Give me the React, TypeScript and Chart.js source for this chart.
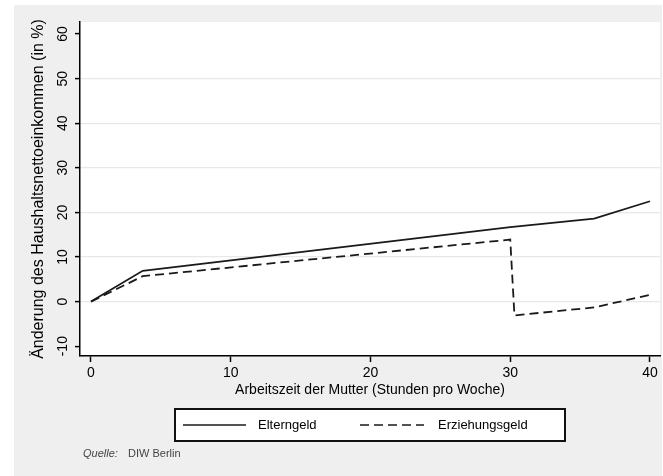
import React, { useEffect, useRef } from "react";
import { Chart, registerables } from "chart.js";

Chart.register(...registerables);

// ---- data ----
const elterngeldHours = [0, 3.7, 30, 36, 40];
const elterngeldValues = [0, 6.9, 16.7, 18.6, 22.5];
const erziehungsHours = [0, 3.7, 30, 30.3, 36, 40];
const erziehungsValues = [0, 5.7, 13.9, -3.1, -1.3, 1.5];
const seriesLabels = ["Elterngeld", "Erziehungsgeld"];
const xTitle = "Arbeitszeit der Mutter (Stunden pro Woche)";
const yTitle = "Änderung des Haushaltsnettoeinkommen (in %)";
const sourceLabel = "Quelle:";
const sourceText = "DIW Berlin";

const W = 663;
const H = 476;
const FONT = "'Liberation Sans', Arial, Helvetica, sans-serif";

const toPoints = (xs: number[], ys: number[]) => xs.map((x, i) => ({ x, y: ys[i] }));

const backgroundPlugin = {
  id: "bgPanel",
  beforeDraw(chart: any) {
    const { ctx, chartArea } = chart;
    ctx.save();
    ctx.fillStyle = "#ffffff";
    ctx.fillRect(0, 0, W, H);
    ctx.fillStyle = "#efefef";
    ctx.fillRect(14, 5, 648, H - 5);
    ctx.fillStyle = "#ffffff";
    ctx.fillRect(chartArea.left, chartArea.top, chartArea.right - chartArea.left, chartArea.bottom - chartArea.top);
    ctx.restore();
  },
};

const legendPlugin = {
  id: "customLegend",
  afterDraw(chart: any) {
    const { ctx } = chart;
    ctx.save();
    // box
    ctx.fillStyle = "#ffffff";
    ctx.fillRect(175, 409, 390, 32);
    ctx.strokeStyle = "#111111";
    ctx.lineWidth = 2;
    ctx.strokeRect(175, 409, 390, 32);
    const cy = 425;
    // solid sample
    ctx.strokeStyle = "#1a1a1a";
    ctx.lineWidth = 1.6;
    ctx.setLineDash([]);
    ctx.beginPath();
    ctx.moveTo(183, cy);
    ctx.lineTo(246, cy);
    ctx.stroke();
    // dashed sample
    ctx.setLineDash([9, 5]);
    ctx.beginPath();
    ctx.moveTo(360, cy);
    ctx.lineTo(424, cy);
    ctx.stroke();
    ctx.setLineDash([]);
    ctx.fillStyle = "#000000";
    ctx.font = `13px ${FONT}`;
    ctx.textBaseline = "middle";
    ctx.textAlign = "left";
    ctx.fillText(seriesLabels[0], 258, cy);
    ctx.fillText(seriesLabels[1], 438, cy);
    // source
    ctx.fillStyle = "#444444";
    ctx.font = `italic 11px ${FONT}`;
    ctx.fillText(sourceLabel, 83, 454);
    ctx.font = `11px ${FONT}`;
    ctx.fillText(sourceText, 128, 454);
    ctx.restore();
  },
};

export default function App() {
  const ref = useRef<HTMLCanvasElement | null>(null);

  useEffect(() => {
    if (!ref.current) return;
    const chart = new Chart(ref.current, {
      type: "scatter",
      data: {
        datasets: [
          {
            label: seriesLabels[0],
            data: toPoints(elterngeldHours, elterngeldValues),
            showLine: true,
            borderColor: "#1a1a1a",
            borderWidth: 1.8,
            pointRadius: 0,
            tension: 0,
          },
          {
            label: seriesLabels[1],
            data: toPoints(erziehungsHours, erziehungsValues),
            showLine: true,
            borderColor: "#1a1a1a",
            borderWidth: 1.8,
            borderDash: [9, 5],
            pointRadius: 0,
            tension: 0,
          },
        ],
      },
      options: {
        responsive: false,
        animation: false,
        events: [],
        layout: { padding: { left: 14, top: 22, right: 3, bottom: 0 } },
        plugins: {
          legend: { display: false },
          tooltip: { enabled: false },
        },
        scales: {
          x: {
            type: "linear",
            min: -0.787,
            max: 40.716,
            afterFit: (s: any) => {
              s.height = 120;
            },
            border: { display: true, color: "#000000", width: 1.5 },
            grid: {
              drawOnChartArea: false,
              drawTicks: true,
              tickLength: 6,
              tickColor: "#000000",
              tickWidth: 1.5,
            },
            ticks: {
              stepSize: 10,
              includeBounds: false,
              color: "#000000",
              padding: 3,
              font: { family: FONT, size: 14 },
            },
            title: {
              display: true,
              text: xTitle,
              color: "#000000",
              font: { family: FONT, size: 14 },
              padding: { top: 0, bottom: 77 },
            },
          },
          y: {
            type: "linear",
            min: -12.2,
            max: 62.7,
            afterFit: (s: any) => {
              s.width = 66;
            },
            border: { display: true, color: "#000000", width: 1.5 },
            grid: {
              drawOnChartArea: true,
              color: (c: any) =>
                c.tick && (c.tick.value === 60 || c.tick.value === -10) ? "rgba(0,0,0,0)" : "#e8e8e8",
              lineWidth: 1.2,
              tickLength: 5,
              tickColor: "#000000",
              tickWidth: 1.5,
            },
            ticks: {
              stepSize: 10,
              includeBounds: false,
              minRotation: 90,
              maxRotation: 90,
              crossAlign: "center",
              color: "#000000",
              padding: 2,
              font: { family: FONT, size: 14 },
            },
            title: {
              display: true,
              text: yTitle,
              color: "#000000",
              font: { family: FONT, size: 16 },
              padding: { top: 15, bottom: 0 },
            },
          },
        },
      },
      plugins: [backgroundPlugin, legendPlugin],
    } as any);
    return () => chart.destroy();
  }, []);

  return (
    <div style={{ position: "absolute", left: 0, top: 0, width: W, height: H }}>
      <canvas ref={ref} width={W} height={H} style={{ display: "block", width: W, height: H }} />
    </div>
  );
}
